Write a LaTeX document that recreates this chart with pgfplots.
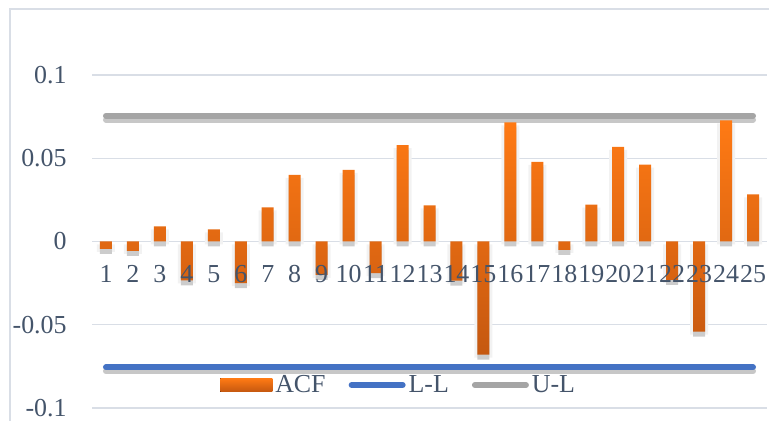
\documentclass[border=0pt]{standalone}
\usepackage{fontspec}
\setmainfont{Liberation Serif}
\usepackage{pgfplots}
\usepackage{pgfplotstable}
\pgfplotsset{compat=1.18}

\definecolor{acftop}{RGB}{255,122,20}
\definecolor{acfbot}{RGB}{197,88,16}
\definecolor{llblue}{RGB}{68,114,196}
\definecolor{ulgray}{RGB}{165,165,165}
\definecolor{gridcol}{RGB}{217,222,230}
\definecolor{labelcol}{RGB}{68,84,106}

\pgfplotsset{
    acfframe/.style={
        at={(46.25bp,6.5bp)}, anchor=south west,
        scale only axis, width=337bp, height=166.5bp,
        xmin=0.5, xmax=25.5, ymin=-0.1, ymax=0.1,
        axis line style={draw=none}, major tick length=0pt,
        tick label style={font=\fontsize{13}{15}\selectfont, text=labelcol},
        /pgf/number format/assume math mode=true,
        clip=false,
    },
}

\pgfplotstableread{
lag acf
1 -0.0044
2 -0.0056
3 0.0091
4 -0.0234
5 0.0073
6 -0.0250
7 0.0205
8 0.0400
9 -0.0200
10 0.0430
11 -0.0190
12 0.0579
13 0.0217
14 -0.0235
15 -0.0680
16 0.0716
17 0.0478
18 -0.0050
19 0.0222
20 0.0568
21 0.0461
22 -0.0230
23 -0.0542
24 0.0728
25 0.0283
}\acfdata

\begin{document}
\begin{tikzpicture}
\useasboundingbox (0,0) rectangle (384.5bp,210.5bp);
\draw[gridcol, line width=0.6bp] (5bp,-5bp) rectangle (392bp,206bp);
\begin{axis}[
    acfframe,
    xtick={1,...,25}, xticklabels={},
    ytick={-0.1,-0.05,0,0.05,0.1},
    yticklabels={-0.1,-0.05,0,0.05,0.1},
    ymajorgrids, grid style={gridcol, line width=0.6bp},
    yticklabel style={anchor=east, inner sep=0pt, xshift=-12.75bp},
    legend style={at={(0.455,0.069)}, anchor=center, draw=none, fill=none,
        font=\fontsize{13}{15}\selectfont, text=labelcol,
        nodes={inner sep=1.5bp},
        /tikz/every even column/.append style={column sep=10bp}},
    legend columns=3,
]
% soft shadows
\addplot[ybar, bar width=9bp, bar shift=0pt, draw=none, fill=black!5,
    yshift=-1.5bp, forget plot] table[x=lag, y=acf] {\acfdata};
\addplot[ybar, bar width=6bp, bar shift=0pt, draw=none, fill=black!20,
    yshift=-2.5bp, forget plot] table[x=lag, y=acf] {\acfdata};
\addplot[line width=3bp, line cap=round, black!22, yshift=-2bp, forget plot]
    coordinates {(1,-0.0756) (25,-0.0756)};
\addplot[line width=3bp, line cap=round, black!22, yshift=-2bp, forget plot]
    coordinates {(1,0.0756) (25,0.0756)};

\addplot[ybar, bar width=6bp, bar shift=0pt, draw=none,
    top color=acftop, bottom color=acfbot,
    legend image code/.code={\fill[top color=acftop, bottom color=acfbot]
        (0bp,-3.3bp) rectangle (26bp,3.3bp);}]
    table[x=lag, y=acf] {\acfdata};
\addlegendentry{ACF}

\addplot[line width=3bp, line cap=round, llblue,
    legend image code/.code={\draw[line width=3bp, line cap=round, llblue]
        (1.5bp,0bp) -- (27bp,0bp);}]
    coordinates {(1,-0.0756) (25,-0.0756)};
\addlegendentry{L-L}

\addplot[line width=3bp, line cap=round, ulgray,
    legend image code/.code={\draw[line width=3bp, line cap=round, ulgray]
        (1.5bp,0bp) -- (27bp,0bp);}]
    coordinates {(1,0.0756) (25,0.0756)};
\addlegendentry{U-L}
\end{axis}
% lag labels on top of the bars
\begin{axis}[
    acfframe,
    xtick={1,...,25},
    ytick=\empty,
    xticklabel style={anchor=center, inner sep=0pt, yshift=67bp},
]
\end{axis}
\end{tikzpicture}
\end{document}
